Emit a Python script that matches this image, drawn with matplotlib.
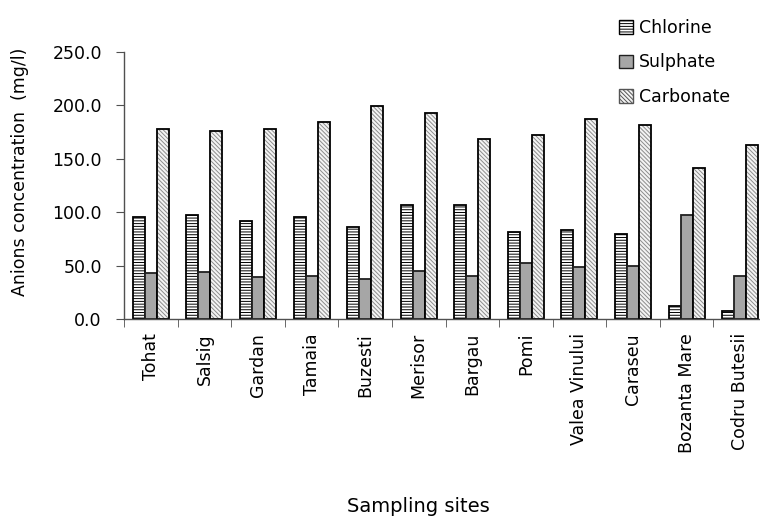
import numpy as np
import matplotlib
matplotlib.use("Agg")
import matplotlib.pyplot as plt
from matplotlib.patches import Patch

# data
sites = ["Tohat", "Salsig", "Gardan", "Tamaia", "Buzesti", "Merisor", "Bargau",
         "Pomi", "Valea Vinului", "Caraseu", "Bozanta Mare", "Codru Butesii"]
chlorine = [95.8, 97.0, 91.8, 95.8, 85.8, 106.4, 106.4, 81.8, 83.3, 79.6, 12.2, 7.2]
sulphate = [43.4, 43.7, 39.3, 40.5, 37.7, 44.6, 40.3, 52.7, 48.4, 49.9, 97.1, 40.6]
carbonate = [177.6, 176.3, 177.6, 184.2, 199.4, 192.6, 168.2, 172.3, 187.0, 181.7, 141.4, 162.6]
yticks = [0, 50, 100, 150, 200, 250]

plt.rcParams['font.family'] = ['DejaVu Sans']
plt.rcParams['hatch.linewidth'] = 0.7

fig = plt.figure(figsize=(7.6, 5.18), dpi=100)
ax = fig.add_axes([124/760, 1 - 319/518, 643/760, 267/518])

x = np.arange(len(sites))
w = 0.224
axis_col = '#505050'
chl_hatch = '------'
carb_hatch = '\\' * 8

# chlorine: white with horizontal lines
ax.bar(x - w, chlorine, w, color='white', edgecolor='black', hatch=chl_hatch, linewidth=0)
ax.bar(x - w, chlorine, w, fill=False, edgecolor='black', linewidth=1.3)
# sulphate: plain grey
ax.bar(x, sulphate, w, color='#a6a6a6', edgecolor='#202020', linewidth=1.3)
# carbonate: light diagonal hatch
ax.bar(x + w, carbonate, w, color='#f4f4f4', edgecolor='#8c8c8c', hatch=carb_hatch, linewidth=0)
ax.bar(x + w, carbonate, w, fill=False, edgecolor='black', linewidth=1.3)

ax.set_xlim(-0.5, len(sites) - 0.5)
ax.set_ylim(0, 250)
ax.set_yticks(yticks)
ax.set_yticklabels(["%.1f" % v for v in yticks], fontsize=12.5)
ax.set_xticks(x)
ax.set_xticklabels(sites, rotation=90, fontsize=12.5)
ax.set_xticks(np.arange(len(sites) + 1) - 0.5, minor=True)
ax.tick_params(axis='x', which='major', length=0, pad=10)
ax.tick_params(axis='x', which='minor', length=6, color=axis_col, direction='out')
ax.tick_params(axis='y', length=6, color=axis_col, direction='out', pad=10)

for s in ['top', 'right']:
    ax.spines[s].set_visible(False)
for s in ['left', 'bottom']:
    ax.spines[s].set_color(axis_col)
    ax.spines[s].set_linewidth(1.0)

ax.set_ylabel("Anions concentration  (mg/l)", fontsize=12.5)
ax.yaxis.set_label_coords(-0.147, 0.55)
fig.text(418/760, 1 - 507/518, "Sampling sites", fontsize=14, ha='center', va='center')

handles = [
    Patch(facecolor='white', edgecolor='black', hatch=chl_hatch, label='Chlorine'),
    Patch(facecolor='#a6a6a6', edgecolor='#202020', label='Sulphate'),
    Patch(facecolor='#f4f4f4', edgecolor='#555555', hatch=carb_hatch, label='Carbonate'),
]
fig.legend(handles=handles, loc='upper left', bbox_to_anchor=(612/760, 1 - 12/518),
           frameon=False, fontsize=12.5, handlelength=0.8, handleheight=0.8,
           handletextpad=0.35, labelspacing=0.95, borderaxespad=0)

fig.savefig("out.png", dpi=100)
